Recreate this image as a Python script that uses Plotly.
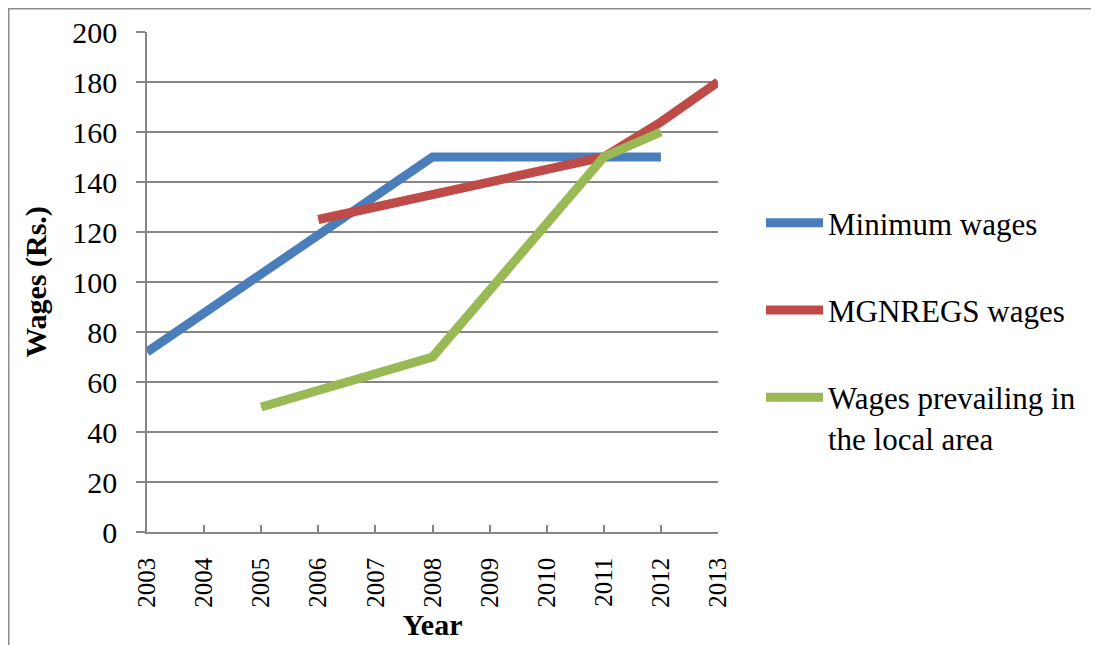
import plotly.graph_objects as go

years = [2003, 2004, 2005, 2006, 2007, 2008, 2009, 2010, 2011, 2012, 2013]
minimum_wages = [72, None, None, None, None, 150, None, None, None, 150, None]
mgnregs_wages = [None, None, None, 125, 130, 135, 140, 145, 150, 164, 180]
local_wages = [None, None, 50, None, None, 70, None, None, 150, 160, None]

series_names = ["Minimum wages", "MGNREGS wages", "Wages prevailing in<br>the local area"]
series_colors = ["#4A7EBB", "#BE4B48", "#98B954"]
series_values = [minimum_wages, mgnregs_wages, local_wages]

OFF = 8  # page body margin
W, H = 1099 - OFF, 645 - OFF
ML, MR, MT, MB = 147 - OFF, 381, 32 - OFF, 113
PW, PH = W - ML - MR, H - MT - MB


def px_to_paper(px, py):
    """window pixel -> paper coords"""
    fx, fy = px - OFF, py - OFF
    return (fx - ML) / PW, (H - MB - fy) / PH


fig = go.Figure()
for i, (name, color, vals) in enumerate(zip(series_names, series_colors, series_values)):
    fig.add_trace(go.Scatter(
        x=years, y=vals, name=name, mode="lines", connectgaps=True,
        line=dict(color=color, width=9),
        legendgroup=f"g{i}",
    ))

x0, y0 = px_to_paper(OFF + 0.5, OFF + 0.5)
x1, y1 = px_to_paper(1120, 680)
fig.add_shape(type="rect", xref="paper", yref="paper", x0=x0, y0=y1, x1=x1, y1=y0,
              line=dict(color="#8C8C8C", width=2), layer="below")

ff = "Liberation Serif"
fig.update_layout(
    width=W, height=H,
    margin=dict(l=ML, r=MR, t=MT, b=MB, autoexpand=False),
    paper_bgcolor="white", plot_bgcolor="white",
    font=dict(family=ff, color="black", size=30),
    showlegend=True,
    legend=dict(
        x=px_to_paper(761, 0)[0], y=px_to_paper(0, 196)[1], xanchor="left", yanchor="top",
        font=dict(size=31, family=ff, color="black"),
        itemwidth=57, traceorder="grouped", tracegroupgap=44, valign="top",
        bgcolor="rgba(0,0,0,0)",
    ),
    xaxis=dict(
        range=[2003, 2013], tickmode="array", tickvals=years, ticktext=[str(y) for y in years],
        tickangle=-90, tickfont=dict(size=25, family=ff),
        ticks="inside", ticklen=7, tickcolor="#868686", tickwidth=1.5,
        showline=True, linecolor="#868686", linewidth=1.5, showgrid=False, zeroline=False,
        ticklabelstandoff=14,
        title=dict(text="<b>Year</b>", font=dict(size=30, family=ff), standoff=2),
        automargin=False,
    ),
    yaxis=dict(
        range=[0, 200], tickmode="linear", tick0=0, dtick=20,
        tickfont=dict(size=30, family=ff),
        ticks="outside", ticklen=9, tickcolor="#868686", tickwidth=1.5,
        showline=True, linecolor="#868686", linewidth=1.5,
        showgrid=True, gridcolor="#868686", gridwidth=1.5, zeroline=False,
        ticklabelstandoff=13,
        title=dict(text="<b>Wages (Rs.)</b>", font=dict(size=30, family=ff), standoff=17),
        automargin=False,
    ),
)

fig.write_html("out.html")
